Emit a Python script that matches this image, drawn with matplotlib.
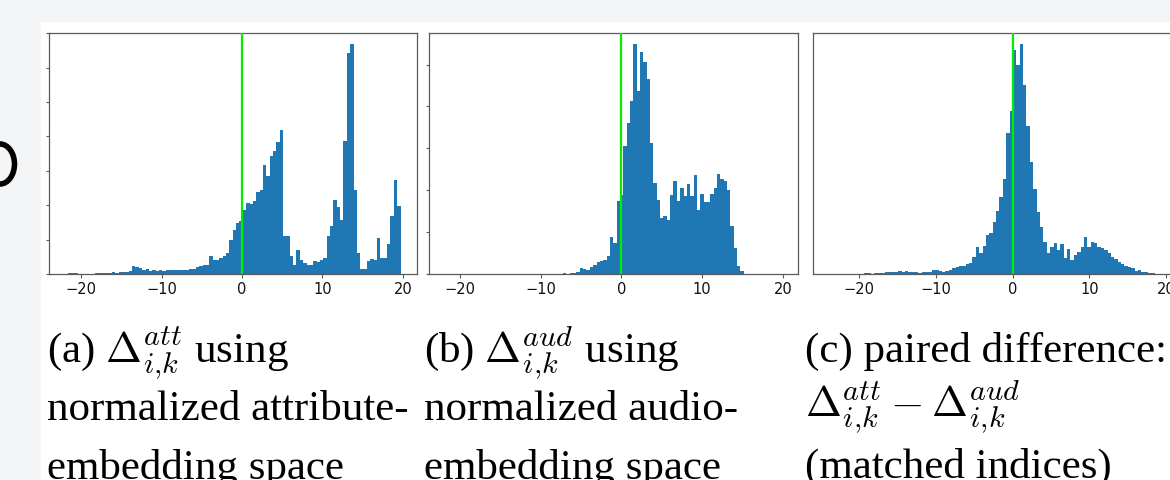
import numpy as np
import matplotlib
matplotlib.use("Agg")
import matplotlib.pyplot as plt
from matplotlib.patches import Rectangle, Ellipse
from matplotlib.ticker import MultipleLocator

plt.rcParams['mathtext.fontset'] = 'cm'

# ---------------- data (histogram bin counts, 100 bins each) ----------------
a_range = (-22.0, 19.7)
a_counts = [
    0, 6, 4, 3, 0, 0, 0, 0, 0, 3,
    4, 3, 6, 6, 9, 7, 12, 9, 12, 17,
    47, 41, 35, 23, 29, 17, 23, 17, 23, 17,
    23, 23, 23, 21, 21, 21, 23, 29, 29, 41,
    47, 52, 55, 105, 82, 82, 93, 105, 122, 198,
    257, 297, 309, 373, 414, 408, 426, 478, 490, 635,
    571, 688, 717, 770, 840, 222, 222, 105, 52, 140,
    82, 64, 52, 52, 76, 70, 82, 93, 222, 280,
    431, 391, 315, 775, 1288, 1335, 490, 122, 29, 29,
    76, 87, 82, 210, 93, 93, 175, 338, 548, 396]

b_range = (-21.7, 19.7)
b_counts = [
    0, 0, 0, 0, 0, 0, 0, 0, 0, 0,
    0, 0, 0, 0, 0, 0, 0, 0, 0, 0,
    0, 0, 0, 0, 0, 0, 0, 0, 0, 0,
    0, 0, 2, 1, 0, 3, 2, 3, 7, 10,
    29, 24, 19, 33, 43, 57, 62, 67, 86, 177,
    148, 349, 378, 612, 723, 828, 1096, 876, 1062, 1014,
    933, 627, 435, 354, 268, 278, 258, 378, 445, 349,
    412, 373, 431, 373, 474, 306, 383, 345, 345, 383,
    412, 479, 455, 445, 402, 230, 124, 38, 14, 0,
    0, 0, 0, 0, 0, 0, 0, 0, 0, 0]

c_range = (-23.7, 20.3)
c_counts = [
    2, 0, 0, 0, 0, 2, 2, 0, 0, 2,
    4, 4, 2, 5, 5, 7, 8, 10, 10, 12,
    15, 12, 15, 10, 10, 8, 7, 8, 10, 12,
    20, 22, 15, 12, 15, 20, 30, 35, 40, 40,
    50, 55, 85, 135, 105, 140, 195, 205, 255, 310,
    380, 470, 695, 805, 1110, 1035, 1135, 935, 730, 555,
    420, 305, 230, 160, 105, 135, 155, 120, 150, 80,
    125, 70, 95, 110, 135, 185, 135, 160, 155, 135,
    130, 120, 105, 85, 75, 60, 50, 40, 35, 30,
    15, 20, 10, 8, 5, 4, 2, 2, 2, 2]

x_ticks = [-20, -10, 0, 10, 20]

captions = [
    [r'(a) $\Delta_{i{,}k}^{att}$ using', 'normalized attribute-', 'embedding space'],
    [r'(b) $\Delta_{i{,}k}^{aud}$ using', 'normalized audio-', 'embedding space'],
    ['(c) paired difference:', r'$\Delta_{i{,}k}^{att} - \Delta_{i{,}k}^{aud}$', '(matched indices)'],
]

# ---------------- figure ----------------
W, H = 1170, 480
fig = plt.figure(figsize=(W / 100, H / 100), dpi=100)
fig.patch.set_facecolor('#f4f5f7')
fig.add_artist(Rectangle((41 / W, 0), 1 - 41 / W, (H - 22) / H,
                         transform=fig.transFigure, facecolor='white',
                         edgecolor='none', zorder=-10))
# partial glyph at left edge
fig.add_artist(Ellipse((0.0, 1 - 164 / H), width=29 / W, height=40 / H,
                       transform=fig.transFigure, fill=False,
                       edgecolor='black', linewidth=4.0))

panels = [
    dict(left=48.5, xlim=(-24.05, 21.75), rng=a_range, counts=a_counts, yt=True),
    dict(left=429, xlim=(-23.8, 21.8), rng=b_range, counts=b_counts, yt=True),
    dict(left=813.3, xlim=(-25.95, 22.05), rng=c_range, counts=c_counts, yt=False),
]
ax_w = 368.5
ax_bottom = 274
ax_h = 241

spine_col = '#5a5a5a'
for p in panels:
    ax = fig.add_axes([p['left'] / W, (H - ax_bottom) / H, ax_w / W, ax_h / H])
    edges = np.linspace(p['rng'][0], p['rng'][1], len(p['counts']) + 1)
    centers = (edges[:-1] + edges[1:]) / 2
    ax.hist(centers, bins=edges, weights=p['counts'], color='#1f77b4')
    ax.axvline(0, color='#00ee00', lw=1.6, zorder=3)
    ax.set_xlim(*p['xlim'])
    ax.set_xticks(x_ticks)
    ax.yaxis.set_major_locator(MultipleLocator(200))
    for s in ax.spines.values():
        s.set_color(spine_col)
        s.set_linewidth(0.9)
    ax.tick_params(axis='x', labelsize=10.5, colors=spine_col, labelcolor='#111111',
                   length=3, width=0.8, pad=3.0)
    ax.tick_params(axis='y', labelleft=False, colors=spine_col, length=2.5, width=0.8,
                   left=p['yt'])

# ---------------- captions ----------------
cap_x = [47, 424, 805]
base_y = [[362, 420, 479], [362, 420, 479], [362, 416, 478]]
for cx, lines, ys in zip(cap_x, captions, base_y):
    for txt, yb in zip(lines, ys):
        fig.text(cx / W, 1 - yb / H, txt, fontsize=31, family='Liberation Serif',
                 color='black', ha='left', va='baseline')

fig.savefig('out.png', dpi=100, facecolor=fig.get_facecolor())
